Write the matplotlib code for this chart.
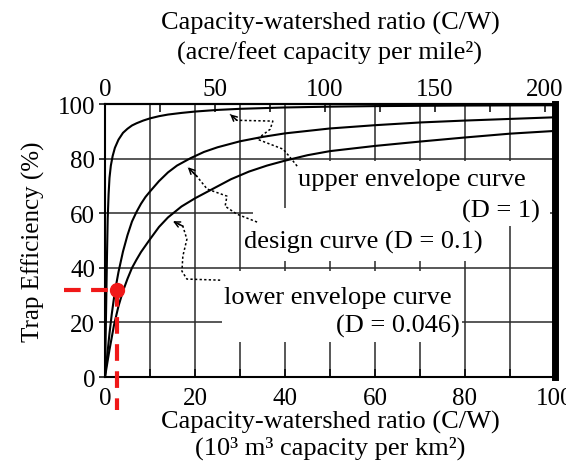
import matplotlib
matplotlib.use("Agg")
import matplotlib.pyplot as plt
from matplotlib.ticker import MultipleLocator, FixedLocator
from matplotlib.patches import Rectangle

plt.rcParams['font.family'] = ['Liberation Serif', 'DejaVu Serif']
plt.rcParams['font.size'] = 19

# ---------------- DATA ----------------
# C/W in 10^3 m3 per km2, trap efficiency in %
upper_x = [0, 0.15, 0.3, 0.45, 0.6, 0.8, 1.0, 1.3, 1.7, 2.2, 3, 4, 5, 6, 7, 8.5, 10,
           12, 14, 17, 20, 25, 30, 40, 50, 60, 80, 100]
upper_y = [0, 15, 30, 45, 58, 67, 73, 77.5, 81, 84, 87, 89.5, 91, 92.2, 93, 94, 94.8,
           95.6, 96.2, 96.8, 97.3, 97.9, 98.3, 98.8, 99.1, 99.3, 99.5, 99.6]

design_x = [0, 0.5, 1, 1.5, 2, 2.5, 3, 4, 5, 6, 7, 8, 9, 10, 12, 14, 16, 19, 22, 25,
            30, 35, 40, 50, 60, 70, 80, 90, 100]
design_y = [0, 8, 16, 23, 29, 34, 38.5, 46, 52, 57, 60.5, 63.5, 66, 68, 71.8, 75, 77.5,
            80.2, 82.5, 84.2, 86.4, 88, 89.3, 91.1, 92.3, 93.3, 94, 94.6, 95.2]

lower_x = [0, 1, 2, 3, 4, 5, 6, 7, 8, 10, 12, 14, 17, 20, 24, 28, 32, 36, 40, 45, 50,
           60, 70, 80, 90, 100]
lower_y = [0, 10, 19, 26, 31.5, 36, 40, 43, 45.8, 50.5, 55, 58.5, 62.5, 65.5, 69, 72.5,
           75.3, 77.5, 79.3, 81.3, 82.8, 84.7, 86.3, 87.8, 89.2, 90.2]

point_x = 2.7
point_y = 32

# 1 x 10^3 m3/km2 in acre-feet per mile2 (as drawn on the top axis)
to_acre = 2.045
top_ticks = [0, 50, 100, 150, 200]

# ---------------- LEADERS (dotted arrows) ----------------
upper_lead = [(42.7, 77.3), (41.1, 80.6), (39.6, 83.5), (33.8, 87.2), (36.7, 90.8),
              (37.3, 93.8), (29.3, 94.1), (27.8, 96.3)]
design_lead = [(33.8, 56.8), (29.3, 59.7), (26.7, 62.6), (27.1, 66.3), (22.7, 68.9),
               (20.4, 73.6), (18.4, 76.9)]
lower_lead = [(25.6, 35.5), (18.2, 35.9), (17.1, 38.8), (17.3, 44.3), (18.2, 50.5),
              (17.3, 55.3), (15.1, 57.1)]

# white areas behind the labels (x0, y0, x1, y1)
label_boxes = [(42, 55.5, 99, 79.3), (31, 42.5, 86.5, 55.5), (26, 12.8, 79.3, 38.8),
               (33, 55.5, 42, 62)]

# ---------------- FIGURE ----------------
fig = plt.figure(figsize=(5.66, 4.64), dpi=100)
ax = fig.add_axes([0.1855, 0.1853, 0.795, 0.588])

ax.set_xlim(0, 100)
ax.set_ylim(0, 100)

grid_col = '#2a2a2a'
ax.xaxis.set_major_locator(MultipleLocator(20))
ax.xaxis.set_minor_locator(MultipleLocator(10))
ax.yaxis.set_major_locator(MultipleLocator(20))
ax.grid(axis='x', which='both', color=grid_col, lw=1.1, zorder=1)
ax.grid(axis='y', which='major', color=grid_col, lw=1.1, zorder=1)
ax.set_axisbelow(True)

ax.tick_params(axis='x', which='both', direction='in', length=6, width=1.1, pad=7,
               labelsize=18)
ax.tick_params(axis='y', direction='out', length=4, width=1.1, pad=3, labelsize=18)

for s in ['left', 'bottom', 'top']:
    ax.spines[s].set_linewidth(1.5)
ax.spines['right'].set_linewidth(5)

for x0, y0, x1, y1 in label_boxes:
    ax.add_patch(Rectangle((x0, y0), x1 - x0, y1 - y0, facecolor='white',
                           edgecolor='none', zorder=2))

# curves
for xs, ys in [(upper_x, upper_y), (design_x, design_y), (lower_x, lower_y)]:
    ax.plot(xs, ys, color='black', lw=1.5, zorder=4)

# dotted leaders with small arrowheads
for path in [upper_lead, design_lead, lower_lead]:
    px = [p[0] for p in path]
    py = [p[1] for p in path]
    ax.plot(px, py, color='black', lw=1.1, ls=(0, (1.5, 1.5)), zorder=4)
    ax.annotate('', xy=path[-1], xytext=path[-2],
                arrowprops=dict(arrowstyle='->', lw=1.1, color='black',
                                mutation_scale=10, shrinkA=0, shrinkB=0),
                zorder=4)

ax.text(68.2, 72.5, 'upper envelope curve', ha='center', va='center', zorder=3)
ax.text(96.7, 61.2, '(D = 1)', ha='right', va='center', zorder=3)
ax.text(57.3, 49.8, 'design curve (D = 0.1)', ha='center', va='center', zorder=3)
ax.text(51.8, 29.3, 'lower envelope curve', ha='center', va='center', zorder=3)
ax.text(78.9, 19.0, '(D = 0.046)', ha='right', va='center', zorder=3)

# red example point with dashed guides
red = '#f01818'
ax.plot([-9, point_x], [point_y, point_y], color=red, lw=3, ls=(0, (4, 2.5)),
        clip_on=False, zorder=5)
ax.plot([point_x, point_x], [point_y, -12], color=red, lw=3, ls=(0, (4, 2.5)),
        clip_on=False, zorder=5)
ax.plot(point_x, point_y, 'o', color=red, ms=10, clip_on=False, zorder=6)

ax.set_ylabel('Trap Efficiency (%)', fontsize=18, labelpad=9)
ax.set_xlabel('Capacity-watershed ratio (C/W)\n(10³ m³ capacity per km²)',
              labelpad=1, linespacing=1.15)

# top axis in acre-feet per square mile
top = ax.secondary_xaxis('top', functions=(lambda x: x * to_acre, lambda x: x / to_acre))
top.xaxis.set_major_locator(FixedLocator(top_ticks))
top.xaxis.set_minor_locator(MultipleLocator(25))
top.tick_params(axis='x', which='both', direction='in', length=6, width=1.1, pad=3,
                labelsize=18)
top.spines['top'].set_linewidth(1.5)
top.set_xlabel('Capacity-watershed ratio (C/W)\n(acre/feet capacity per mile²)',
               labelpad=15, linespacing=1.3)

fig.savefig('out.png', dpi=100)
